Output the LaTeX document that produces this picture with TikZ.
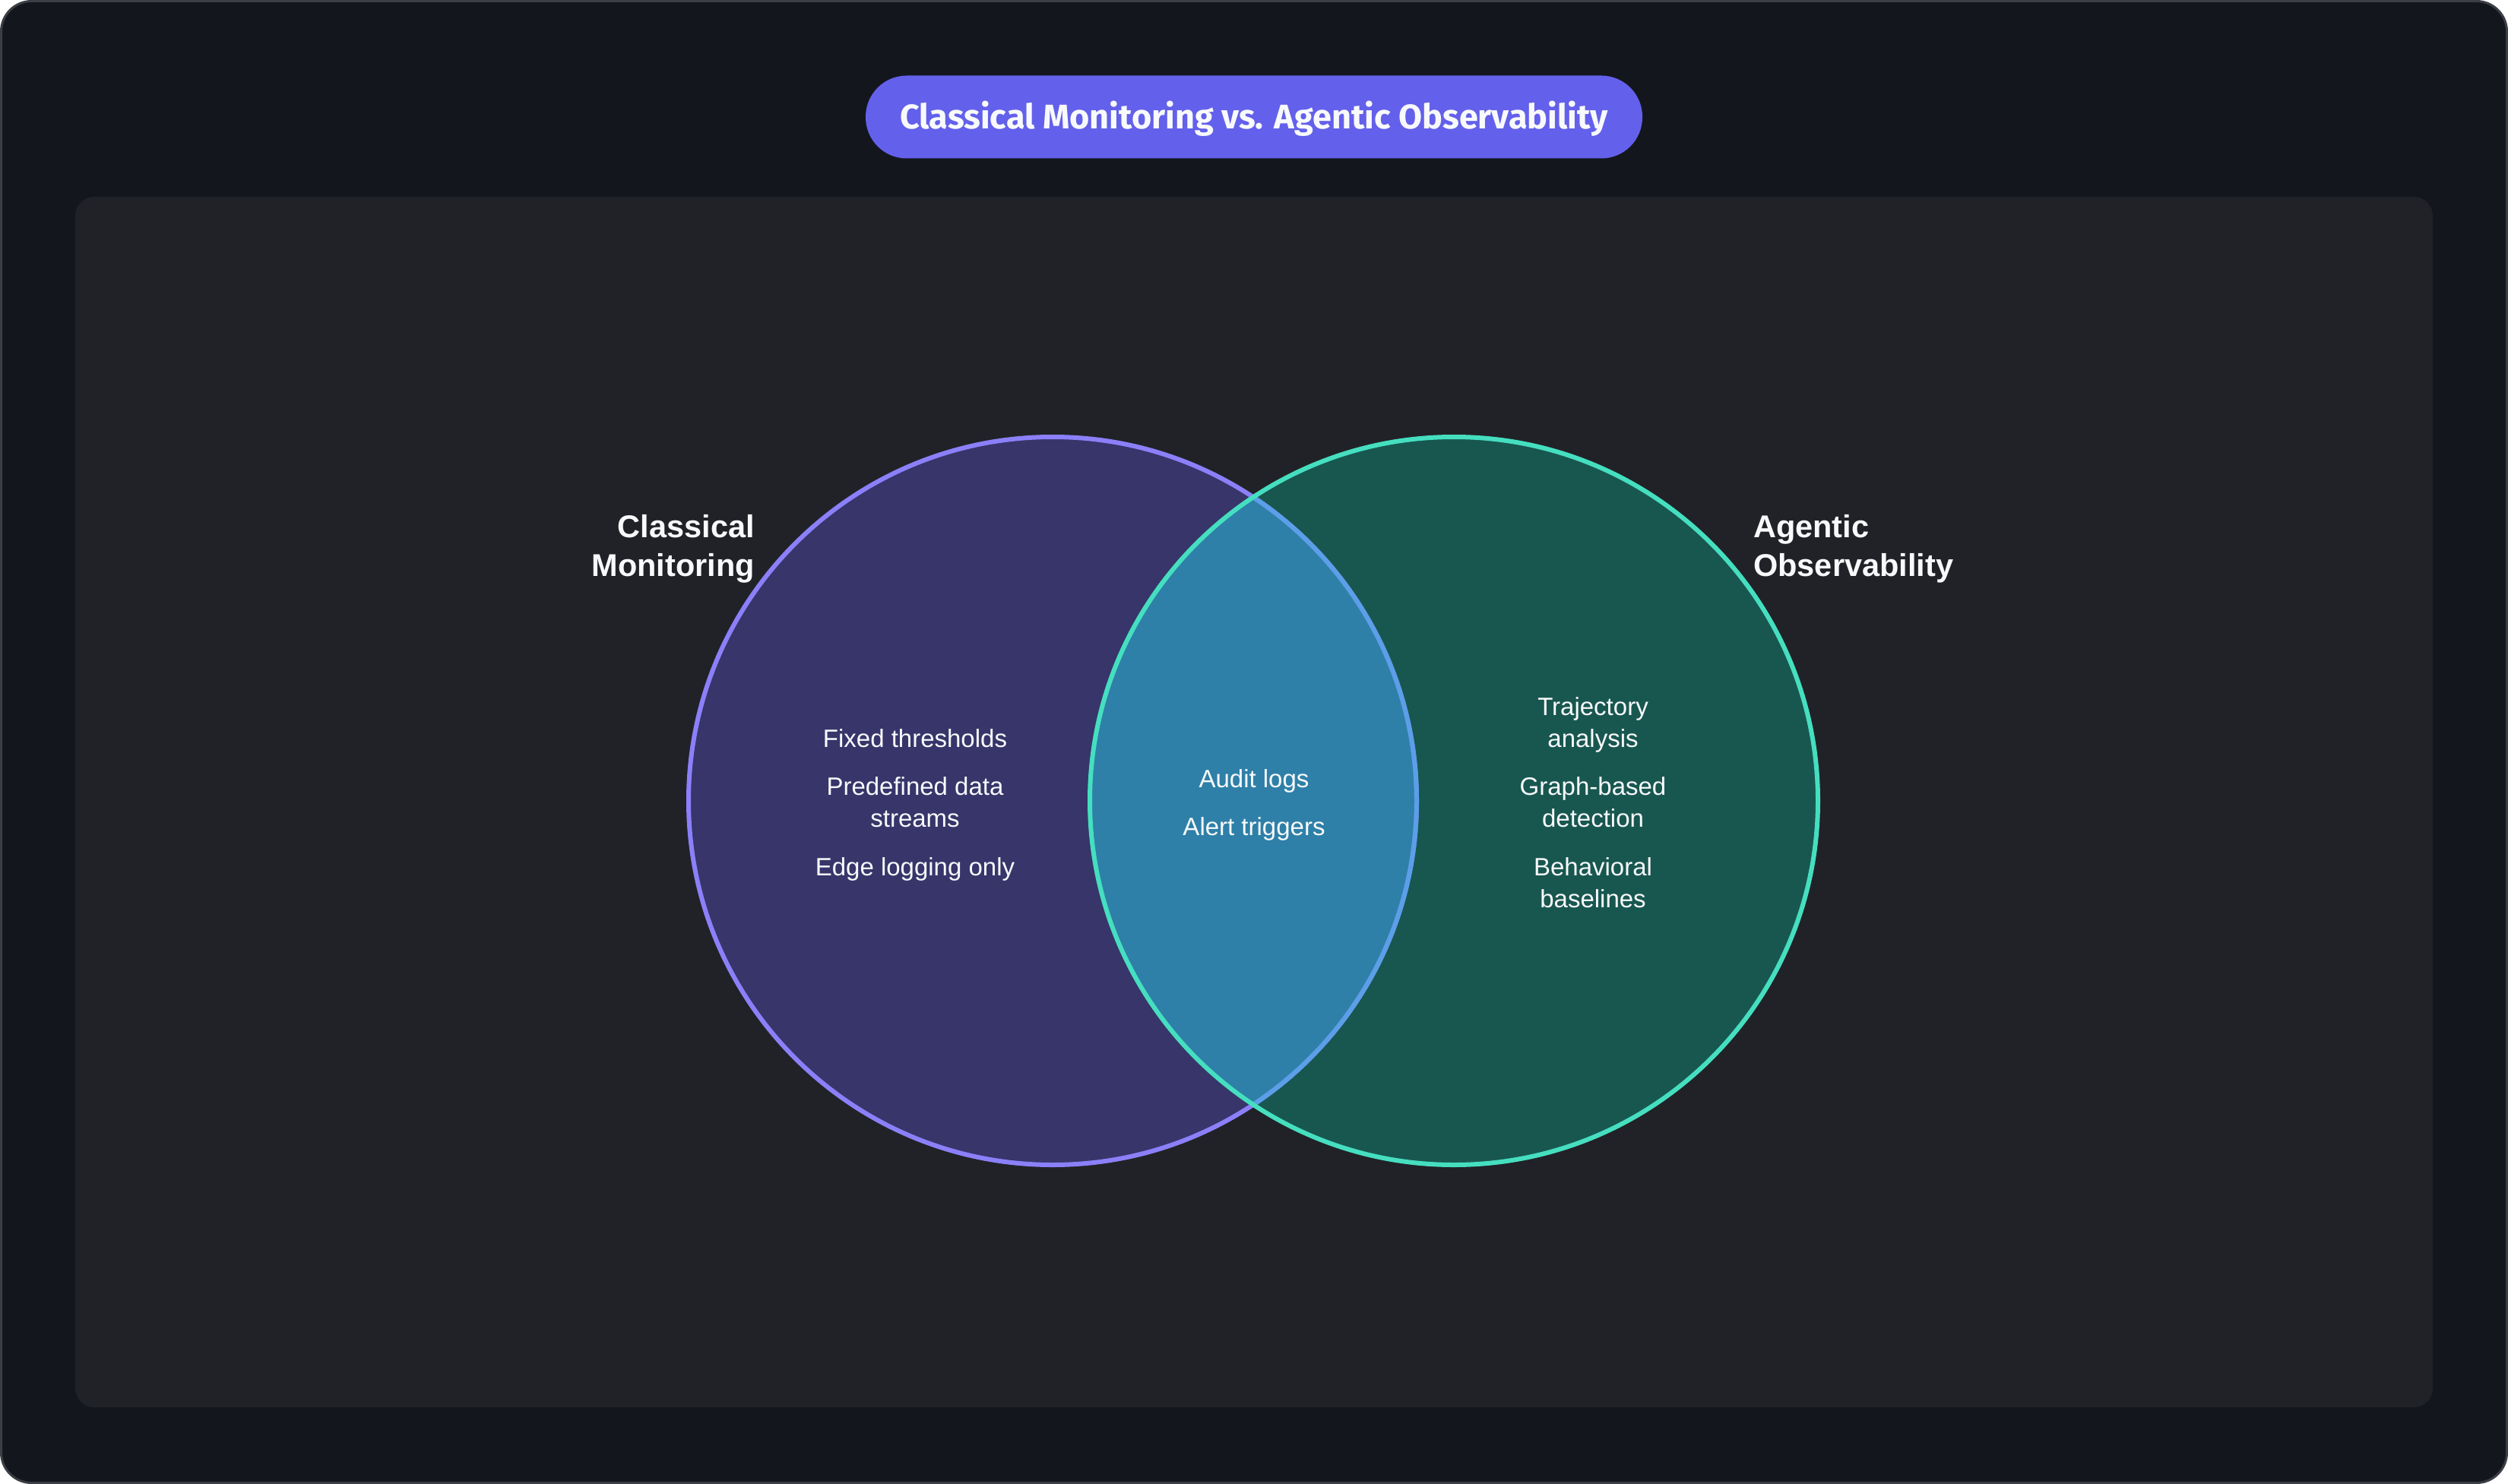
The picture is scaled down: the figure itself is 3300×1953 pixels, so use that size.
\documentclass[tikz,border=0pt]{standalone}
\usepackage{fontspec}
\setmainfont{Liberation Sans}
\newfontfamily\titlefont{Fira Sans}
\usepackage{xcolor}
\usetikzlibrary{positioning}

\definecolor{pagebg}{HTML}{13161D}
\definecolor{pageedge}{HTML}{3B3E45}
\definecolor{panelbg}{HTML}{212227}
\definecolor{pillbg}{HTML}{6360EB}
\definecolor{classfill}{HTML}{37356A}
\definecolor{classline}{HTML}{8B80F9}
\definecolor{agentfill}{HTML}{185750}
\definecolor{agentline}{HTML}{45DFC0}
\definecolor{sharedfill}{HTML}{2E80A8}
\definecolor{sharedline}{HTML}{5A9FE8}
\definecolor{txt}{HTML}{F8F9FB}

\begin{document}
\begin{tikzpicture}[x=1pt,y=-1pt]
\tikzstyle{pill}=[rectangle,rounded corners=54pt,fill=pillbg,text=txt,minimum width=1022pt,minimum height=109pt,text height=32pt,text depth=0pt,font=\titlefont\bfseries\fontsize{45}{54}\selectfont]
\tikzstyle{setlabel}=[text=txt,inner sep=0pt,font=\bfseries\fontsize{41.5}{51}\selectfont]
\tikzstyle{item}=[text=txt,align=center,anchor=base,inner sep=0pt,font=\fontsize{33}{42}\selectfont]
\useasboundingbox (0,0) rectangle (3300,1953);
% background and panel
\draw[fill=pagebg,draw=pageedge,line width=3pt,rounded corners=40pt] (1.5,1.5) rectangle (3298.5,1951.5);
\fill[panelbg,rounded corners=25pt] (99,259) rectangle (3201,1852);
\node[pill] (title) at (1650,154) {Classical Monitoring vs. Agentic Observability};
% the two sets
\coordinate (classc) at (1385,1054);
\coordinate (agentc) at (1913,1054);
\fill[classfill] (classc) circle (479pt);
\fill[agentfill] (agentc) circle (479pt);
\begin{scope}
\clip (classc) circle (479pt);
\fill[sharedfill] (agentc) circle (479pt);
\end{scope}
\draw[classline,line width=6pt] (classc) circle (479pt);
\begin{scope}
\clip (agentc) circle (479pt);
\draw[sharedline,line width=6pt] (classc) circle (479pt);
\end{scope}
\draw[agentline,line width=6pt] (agentc) circle (479pt);
% set names (base = last line)
\node[setlabel,align=right,anchor=base east] (classical) at (993,758) {Classical\\Monitoring};
\node[setlabel,align=left,anchor=base west] (agentic) at (2307,758) {Agentic\\Observability};
% classical only
\node[item] (fixed) at (1204,983) {Fixed thresholds};
\node[item] (predef) at (1204,1088) {Predefined data\\streams};
\node[item] (edge) at (1204,1152) {Edge logging only};
% shared
\node[item] (audit) at (1650,1036) {Audit logs};
\node[item] (alert) at (1650,1099) {Alert triggers};
% agentic only
\node[item] (traj) at (2096,983) {Trajectory\\analysis};
\node[item] (graph) at (2096,1088) {Graph-based\\detection};
\node[item] (behav) at (2096,1194) {Behavioral\\baselines};
\end{tikzpicture}
\end{document}
